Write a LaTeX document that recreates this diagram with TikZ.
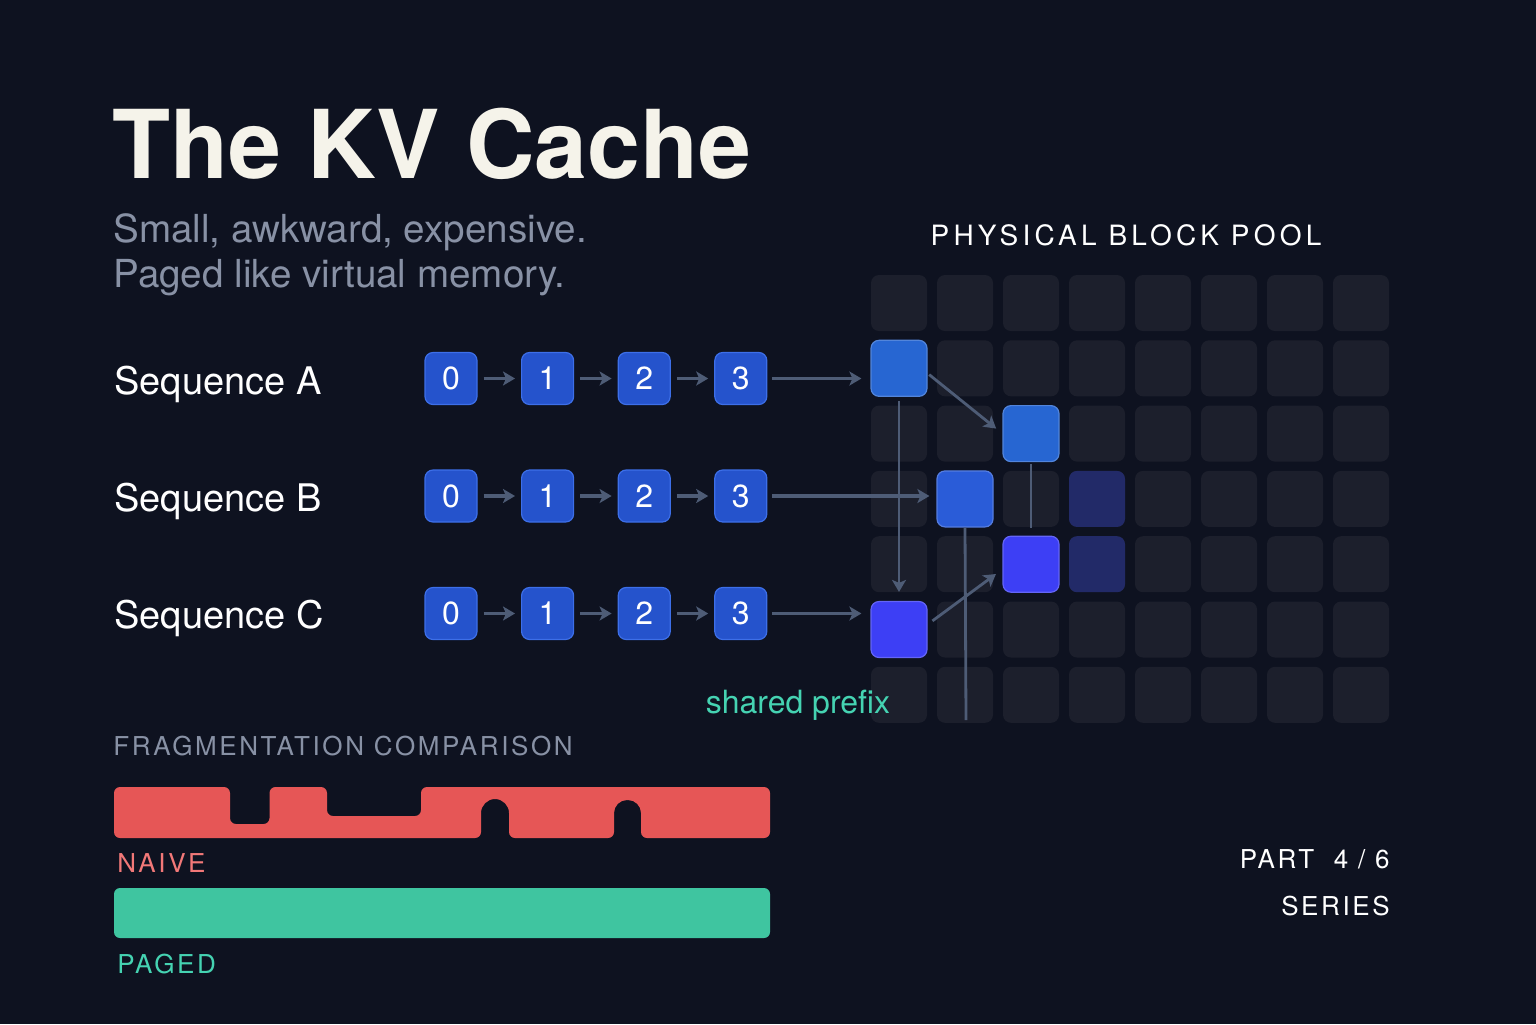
\documentclass[tikz,border=0pt]{standalone}
\usepackage{fontspec}
\setmainfont{TeX Gyre Heros}
\newfontfamily\trackfont[LetterSpace=10]{TeX Gyre Heros}
\newfontfamily\widefont[LetterSpace=15]{TeX Gyre Heros}
\usetikzlibrary{arrows.meta}

\definecolor{bgc}{HTML}{0E1220}
\definecolor{cellc}{HTML}{1C1F2C}
\definecolor{tokfill}{HTML}{2553CC}
\definecolor{tokedge}{HTML}{3D6FE8}
\definecolor{blkA}{HTML}{2766D2}
\definecolor{blkB}{HTML}{2A5CD8}
\definecolor{blkC}{HTML}{3D3FF5}
\definecolor{blkdim}{HTML}{222A68}
\definecolor{arrowc}{HTML}{4E5C76}
\definecolor{subgrey}{HTML}{8891A5}
\definecolor{titlec}{HTML}{F5F3EA}
\definecolor{redbar}{HTML}{E65656}
\definecolor{redtxt}{HTML}{F27878}
\definecolor{tealbar}{HTML}{3FC5A0}
\definecolor{tealtxt}{HTML}{45D3B2}

\tikzset{
    >={Stealth[length=6pt, width=7pt, inset=1.5pt]}, % Default arrow tip
    cell/.style={rectangle, rounded corners=4pt, minimum size=28pt, inner sep=0pt, fill=cellc},
    block/.style={cell, draw=#1!80!white, line width=0.6pt, fill=#1},
    token/.style={rectangle, rounded corners=4pt, minimum size=26pt, inner sep=0pt,
        fill=tokfill, draw=tokedge, line width=0.6pt, text=white, font=\fontsize{16}{16}\selectfont},
    txt/.style={inner sep=0pt, anchor=base west},
    flow/.style={->, draw=arrowc, line width=1.7pt},
    link/.style={draw=arrowc, line width=1.4pt}
}
\def\gx{66}
\def\gy{65.3}

\begin{document}
\begin{tikzpicture}[x=0.5pt, y=-0.5pt]
    \fill[bgc] (0,0) rectangle (1536,1024);
    \useasboundingbox (0,0) rectangle (1536,1024);

    % heading
    \node[txt, text=titlec, font=\fontsize{47.5}{48}\selectfont\bfseries] (title) at (112,178) {The KV Cache};
    \node[txt, text=subgrey, font=\fontsize{19.3}{19.3}\selectfont] (sub1) at (113,242) {Small, awkward, expensive.};
    \node[txt, text=subgrey, font=\fontsize{19.3}{19.3}\selectfont] (sub2) at (113,287) {Paged like virtual memory.};

    % physical block pool
    \node[inner sep=0pt, anchor=base, text=white, font=\fontsize{14}{14}\widefont] (pool) at (1126,245) {PHYSICAL BLOCK POOL};
    \foreach \c in {0,...,7}
        \foreach \r in {0,...,6}
            \node[cell] (g-\c-\r) at (899+\c*\gx, 303+\r*\gy) {};

    \draw
        node[block=blkA] (pa) at (g-0-1) {}
        node[block=blkA] (pa2) at (g-2-2) {}
        node[block=blkB] (pb) at (g-1-3) {}
        node[block=blkC] (pc2) at (g-2-4) {}
        node[block=blkC] (pc) at (g-0-5) {}
        node[cell, fill=blkdim] (d1) at (g-3-3) {}
        node[cell, fill=blkdim] (d2) at (g-3-4) {}
    ;
    \coordinate (pbend) at (966,720);

    % sequences
    \foreach \s/\y/\b in {A/378.5/394.5, B/496/511.5, C/613.5/628.5} {
        \node[txt, text=white, font=\fontsize{19}{19}\selectfont] (lab\s) at (114,\b) {Sequence \s};
        \foreach \k in {0,...,3}
            \node[token] (\s\k) at (451+\k*96.6, \y) {\k};
        \foreach \k/\n in {0/1, 1/2, 2/3}
            \draw[flow, shorten <=3pt, shorten >=3pt] (\s\k) -- (\s\n);
    }

    \draw[flow, shorten <=2.5pt, shorten >=4.5pt] (A3) -- (A3 -| pa.west);
    \draw[flow, shorten <=2.5pt, shorten >=4.5pt] (C3) -- (C3 -| pc.west);
    \draw[flow, shorten <=2.5pt, shorten >=3.5pt] (B3) -- (B3 -| pb.west);

    % links inside the pool
    \draw[flow, line width=1.4pt, shorten <=1pt, shorten >=4pt] (pa.-10) -- (pa2.west);
    \draw[flow, line width=1.4pt, shorten <=3pt, shorten >=4pt] (pc.10) -- (pc2.190);
    \draw[flow, line width=1.4pt, shorten <=2pt, shorten >=4.5pt] (pa.south) -- (pc.north);
    \draw[link, shorten <=1pt, shorten >=4pt] (pa2.south) -- (pc2.north);
    \draw[link] (pb.south) -- (pbend);
    \node[inner sep=0pt, anchor=base, text=tealtxt, font=\fontsize{16}{16}\selectfont] (shared) at (798,713) {shared prefix};

    % fragmentation comparison
    \node[txt, text=subgrey, font=\fontsize{13}{13}\trackfont] (frag) at (113,755.5) {FRAGMENTATION COMPARISON};
    \fill
        [redbar, rounded corners=3pt]
        (114,787) -- (230,787) -- (230,824) -- (269.5,824) -- (269.5,787)
        -- (327,787) -- (327,816) -- (421,816) -- (421,787)
        -- (770,787) -- (770,838) -- (641,838)
        [rounded corners=6.5pt] -- (641,800) -- (614,800) [rounded corners=3pt] -- (614,838)
        -- (509,838) [rounded corners=7pt] -- (509,799) -- (481,799) [rounded corners=3pt] -- (481,838)
        -- (114,838) -- cycle
    ;
    \node[txt, text=redtxt, font=\fontsize{13}{13}\trackfont] (naive) at (117,872) {NAIVE};
    \fill[tealbar, rounded corners=3pt] (114,888) rectangle (770,938);
    \node[txt, text=tealtxt, font=\fontsize{13}{13}\trackfont] (paged) at (117,973) {PAGED};

    % series
    \node[inner sep=0pt, anchor=base east, text=white, font=\fontsize{13}{13}\trackfont] (part) at (1390,868.5) {PART\ \ 4 / 6};
    \node[inner sep=0pt, anchor=base east, text=white, font=\fontsize{13}{13}\trackfont] (series) at (1390,915.5) {SERIES};
\end{tikzpicture}
\end{document}
